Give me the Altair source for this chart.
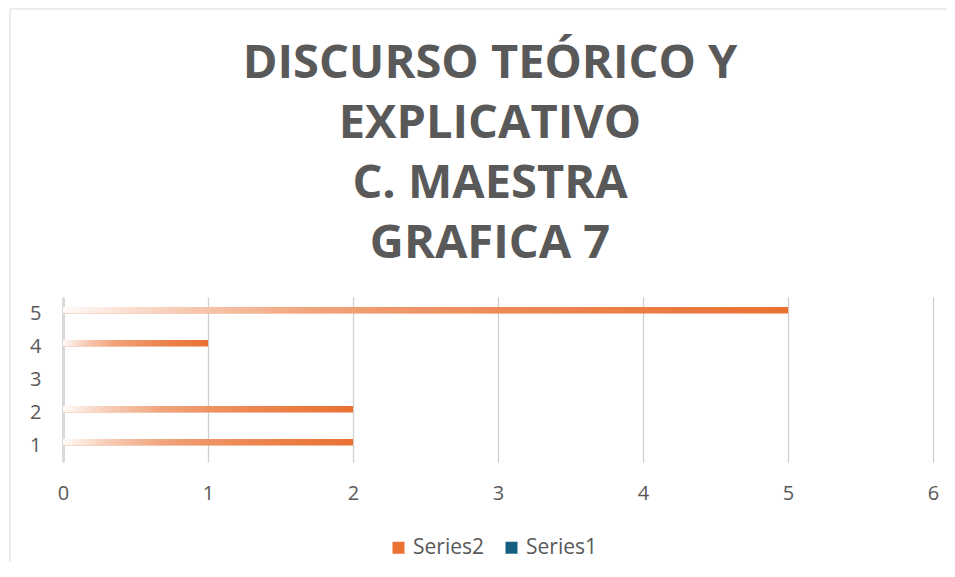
import altair as alt
import pandas as pd

categories = ["1", "2", "3", "4", "5"]
series2 = [2, 2, 0, 1, 5]
series1 = [0, 0, 0, 0, 0]
series_names = ["Series2", "Series1"]
series_colors = ["#E97132", "#156082"]
x_ticks = [0, 1, 2, 3, 4, 5, 6]
title_lines = ["DISCURSO TEÓRICO Y", "EXPLICATIVO", "C. MAESTRA", "GRAFICA 7"]

rows = []
for c, v in zip(categories, series2):
    rows.append({"cat": c, "series": "Series2", "value": v})
for c, v in zip(categories, series1):
    rows.append({"cat": c, "series": "Series1", "value": v})
df = pd.DataFrame(rows)

FONT = "Open Sans"
TXT = "#595959"

y_enc = alt.Y(
    "cat:N",
    sort=categories[::-1],
    title=None,
    scale=alt.Scale(paddingInner=0, paddingOuter=0),
    axis=alt.Axis(
        ticks=False, domain=True, domainColor="#D9D9D9", domainWidth=3,
        labelFont=FONT, labelFontSize=20, labelColor=TXT, labelPadding=22,
        grid=False,
    ),
)
x_enc = alt.X(
    "value:Q",
    title=None,
    scale=alt.Scale(domain=[0, 6], nice=False),
    axis=alt.Axis(
        values=x_ticks, ticks=False, domain=False, grid=True,
        gridColor="#D0D0D0", gridWidth=1.3, labelFlush=False,
        labelFont=FONT, labelFontSize=20, labelColor=TXT, labelPadding=21,
    ),
)

base = alt.Chart(df).encode(y=y_enc, x=x_enc)

s2 = base.transform_filter(alt.datum.series == "Series2")
s1 = base.transform_filter(alt.datum.series == "Series1")

legend = alt.Legend(
    title=None, orient="none", legendX=325, legendY=240,
    direction="horizontal", symbolType="square", symbolSize=144,
    symbolStrokeWidth=0, labelFont=FONT, labelFontSize=21,
    labelColor=TXT, columnPadding=17, labelOffset=4,
)
color_enc = alt.Color(
    "series:N",
    scale=alt.Scale(domain=series_names, range=series_colors),
    legend=legend,
)

bars2 = s2.mark_bar(height=6.6, yOffset=-3.3).encode(color=color_enc)
bars1 = s1.mark_bar(height=6.6, yOffset=3.3).encode(color=color_enc)

shade = s2.transform_filter(alt.datum.value > 0).mark_bar(
    height=6.6, yOffset=-3.3,
    color=alt.Gradient(
        gradient="linear",
        x1=0, x2=1, y1=0, y2=0,
        stops=[
            alt.GradientStop(offset=0, color="rgba(255,255,255,0.97)"),
            alt.GradientStop(offset=0.15, color="rgba(255,255,255,0.65)"),
            alt.GradientStop(offset=0.35, color="rgba(255,255,255,0.35)"),
            alt.GradientStop(offset=0.65, color="rgba(255,255,255,0.15)"),
            alt.GradientStop(offset=1, color="rgba(255,255,255,0)"),
        ],
    ),
)

one = alt.Data(values=[{"k": 1}])
border_top = alt.Chart(one).mark_rule(color="#D9D9D9", strokeWidth=1).encode(
    x=alt.value(-53), x2=alt.value(900), y=alt.value(-288)
)
border_left = alt.Chart(one).mark_rule(color="#D9D9D9", strokeWidth=1).encode(
    x=alt.value(-53), y=alt.value(-288), y2=alt.value(300)
)

chart = alt.layer(border_top, border_left, bars2, bars1, shade).properties(
    width=870,
    height=165,
    background="white",
    autosize=alt.AutoSizeParams(type="none"),
    padding={"left": 55, "top": 289, "right": 14, "bottom": 100},
    title=alt.TitleParams(
        text=title_lines, font=FONT, fontSize=47, fontWeight="bold",
        color=TXT, lineHeight=60, anchor="middle", offset=29, dx=-8, dy=288,
    ),
).configure_view(stroke=None)

chart.save("out.html", embed_options={"renderer": "svg", "actions": False})
